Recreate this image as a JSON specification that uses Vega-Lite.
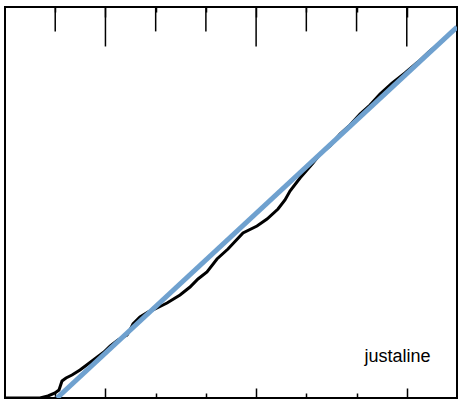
{
  "$schema": "https://vega.github.io/schema/vega-lite/v6.json",
  "width": 452,
  "height": 391,
  "autosize": "none",
  "padding": {"left": 5, "top": 7, "right": 1, "bottom": 3},
  "background": "white",
  "config": {
    "view": {"stroke": "black", "strokeWidth": 2},
    "axis": {"domain": false, "labels": false, "ticks": false, "title": null}
  },
  "datasets": {
    "curve": [
      {"x": 0, "y": 0}, {"x": 0.697, "y": 0}, {"x": 0.856, "y": 0.04}, {"x": 0.996, "y": 0.1},
      {"x": 1.075, "y": 0.159}, {"x": 1.135, "y": 0.339}, {"x": 1.215, "y": 0.398}, {"x": 1.334, "y": 0.458},
      {"x": 1.493, "y": 0.558}, {"x": 1.653, "y": 0.677}, {"x": 1.812, "y": 0.797}, {"x": 1.971, "y": 0.916},
      {"x": 2.091, "y": 1.035}, {"x": 2.25, "y": 1.155}, {"x": 2.35, "y": 1.215}, {"x": 2.429, "y": 1.254},
      {"x": 2.489, "y": 1.354}, {"x": 2.549, "y": 1.474}, {"x": 2.688, "y": 1.613}, {"x": 2.847, "y": 1.712},
      {"x": 2.987, "y": 1.772}, {"x": 3.226, "y": 1.892}, {"x": 3.485, "y": 2.051}, {"x": 3.684, "y": 2.21},
      {"x": 3.843, "y": 2.37}, {"x": 4.022, "y": 2.509}, {"x": 4.221, "y": 2.768}, {"x": 4.44, "y": 2.967},
      {"x": 4.739, "y": 3.286}, {"x": 5.018, "y": 3.425}, {"x": 5.217, "y": 3.564}, {"x": 5.436, "y": 3.763},
      {"x": 5.575, "y": 3.943}, {"x": 5.675, "y": 4.122}, {"x": 5.874, "y": 4.381}, {"x": 6.133, "y": 4.679},
      {"x": 6.272, "y": 4.859}, {"x": 6.472, "y": 5.018}, {"x": 6.671, "y": 5.257}, {"x": 6.87, "y": 5.436},
      {"x": 7.069, "y": 5.655}, {"x": 7.268, "y": 5.834}, {"x": 7.467, "y": 6.053}, {"x": 7.706, "y": 6.272},
      {"x": 7.965, "y": 6.472}, {"x": 8.224, "y": 6.691}, {"x": 8.463, "y": 6.91}, {"x": 8.662, "y": 7.069},
      {"x": 8.861, "y": 7.248}, {"x": 9.0, "y": 7.388}
    ],
    "fit": [{"x": 1.035, "y": 0}, {"x": 9.0, "y": 7.388}],
    "label": [{"x": 7.816, "y": 0.717, "text": "justaline"}],
    "majorTicks": [{"x": 2}, {"x": 5}, {"x": 8}],
    "minorTicks": [{"x": 1}, {"x": 3}, {"x": 4}, {"x": 6}, {"x": 7}]
  },
  "layer": [
    {
      "data": {"name": "curve"},
      "mark": {"type": "line", "color": "black", "strokeWidth": 3, "clip": true},
      "encoding": {
        "x": {"field": "x", "type": "quantitative", "scale": {"domain": [0, 9], "nice": false, "zero": false},
              "axis": {"orient": "bottom", "values": [1, 2, 3, 4, 5, 6, 7, 8], "grid": true,
                       "gridColor": "black", "gridWidth": 1.5, "gridOpacity": 1,
                       "gridDash": {"condition": {"test": "datum.value == 2 || datum.value == 5 || datum.value == 8", "value": [10, 371, 10]}, "value": [5, 381, 5]}}},
        "y": {"field": "y", "type": "quantitative", "scale": {"domain": [0, 7.786], "nice": false, "zero": false}, "axis": null}
      }
    },
    {
      "data": {"name": "fit"},
      "mark": {"type": "line", "color": "#6fa1cf", "strokeWidth": 5, "clip": true},
      "encoding": {
        "x": {"field": "x", "type": "quantitative"},
        "y": {"field": "y", "type": "quantitative"}
      }
    },
    {
      "data": {"name": "label"},
      "mark": {"type": "text", "font": "Liberation Sans", "fontSize": 18, "color": "black", "align": "center", "baseline": "alphabetic"},
      "encoding": {
        "x": {"field": "x", "type": "quantitative"},
        "y": {"field": "y", "type": "quantitative"},
        "text": {"field": "text"}
      }
    },
    {
      "data": {"name": "majorTicks"},
      "mark": {"type": "rule", "color": "black", "strokeWidth": 1.5},
      "encoding": {
        "x": {"field": "x", "type": "quantitative"},
        "y": {"datum": 7.786},
        "y2": {"datum": 7.0}
      }
    },
    {
      "data": {"name": "minorTicks"},
      "mark": {"type": "rule", "color": "black", "strokeWidth": 1.5},
      "encoding": {
        "x": {"field": "x", "type": "quantitative"},
        "y": {"datum": 7.786},
        "y2": {"datum": 7.3}
      }
    }
  ]
}
